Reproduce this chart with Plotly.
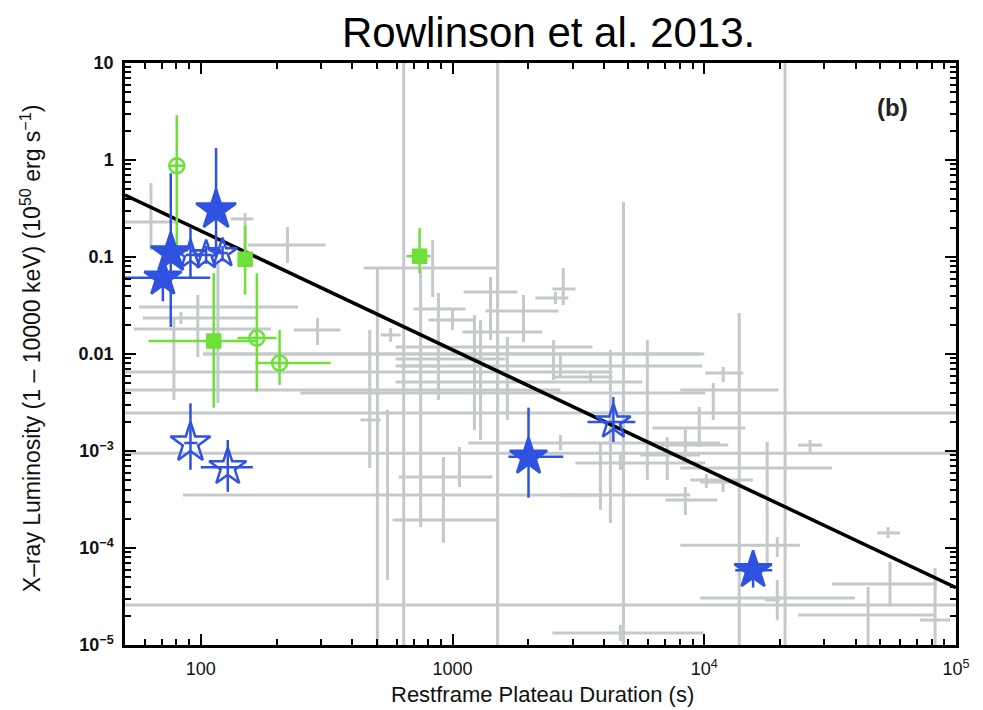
import plotly.graph_objects as go

# ---------------- data ----------------
# Other GRBs (gray crosses): plateau duration T (s), luminosity L (1e50 erg/s), error ranges
gray_T   = [63.4, 150, 221, 97.3, 78.2, 83.4, 291, 568, 117, 640, 1510, 20940, 503, 4775,
            2683, 13770, 3868, 4238, 5940, 1416, 2754, 2564, 879, 834, 1000, 1914, 1222,
            2518, 1652, 1292, 3530, 2683, 4643, 1066, 920, 552, 4643, 7130, 8410, 8410,
            11890, 10860, 9550, 26330, 10190, 11890, 17780, 19500, 53700, 54680, 44770,
            82600, 19500, 469, 747]
gray_L   = [0.23, 0.247, 0.133, 0.0305, 0.0181, 0.0235, 0.0177, 0.0157, 0.01, 0.00426,
            0.00247, 9.5e-4, 0.00652, 2.58e-5, 0.0075, 3.05e-5, 3.52e-4, 0.00514, 0.00396,
            0.0436, 0.0468, 0.0378, 0.0291, 0.077, 0.0224, 0.0277, 0.0169, 0.0118, 0.01,
            0.00888, 0.0058, 0.00121, 7.51e-4, 5.4e-4, 1.94e-4, 3.52e-4, 1.33e-5, 9.1e-4,
            3.12e-4, 0.00115, 0.00637, 0.00426, 0.00173, 0.00115, 5.02e-4, 4.79e-4, 6.68e-4,
            1.07e-4, 1.43e-4, 4.25e-5, 2.04e-5, 1.81e-5, 2.91e-5, 0.00209, 0.0075]
gray_Tlo = [45, 131.5, 154, 56.8, 54.2, 58.9, 234, 518, 102, 40, 30, 30, 40, 30,
            594, 9641, 2683, 594, 249, 1107, 2494, 2133, 700, 444, 803, 1352, 1096,
            594, 102, 594, 2494, 1156, 3077, 611, 578, 84.9, 2494, 5573, 7000, 6690,
            10090, 8031, 6220, 23600, 8800, 9641, 8031, 8031, 48650, 32210, 23600,
            71900, 17460, 431, 622]
gray_Thi = [81.8, 162, 313, 243, 190, 168, 359, 622, 9641, 2683, 3e5, 3e5, 4315, 3e5,
            9820, 39700, 8800, 5675, 10090, 1811, 3077, 2884, 1127, 1510, 1210, 2636, 2275,
            3597, 10000, 1622, 4315, 11570, 10090, 1442, 1510, 3868, 9910, 9641, 11270, 12450,
            14290, 19680, 14560, 29380, 15630, 13890, 32210, 24030, 59900, 84100, 82600,
            94600, 20040, 518, 896]
gray_Llo = [0.118, 0.0888, 0.0868, 0.0093, 0.00336, 0.0204, 0.0124, 0.0133, 0.00313, 1e-6,
            1e-6, 1e-6, 1e-6, 1e-6, 0.00566, 1e-6, 2.47e-4, 1.81e-4, 5.02e-4,
            0.0139, 0.032, 0.0327, 0.00336, 0.0387, 0.0177, 0.0133, 0.00165, 0.0054, 0.00209,
            0.0013, 0.00514, 0.00102, 6.37e-4, 4.25e-4, 1.13e-4, 4.67e-5, 1.1e-5, 5.02e-4,
            2.19e-4, 8.07e-4, 0.00514, 0.00209, 0.0011, 9.77e-4, 4.16e-4, 3.78e-4, 6.37e-5,
            8.07e-5, 1.27e-4, 2.47e-5, 1e-6, 1e-6, 1.8e-5, 6.68e-4, 1.64e-4]
gray_Lhi = [0.58, 0.284, 0.204, 0.0406, 0.0235, 0.0271, 0.0235, 0.0185, 0.0868, 100,
            100, 100, 0.0788, 0.369, 0.00977, 0.0265, 0.00121, 0.011, 0.0139,
            0.0622, 0.077, 0.0436, 0.0426, 0.15, 0.0298, 0.0406, 0.0252, 0.0139, 0.015,
            0.0224, 0.00652, 0.00146, 9.1e-4, 0.0011, 8.67e-4, 0.00265, 1.61e-5, 0.00139,
            4.25e-4, 0.00165, 0.00735, 0.00502, 0.00284, 0.0013, 5.79e-4, 5.25e-4, 0.00124,
            1.3e-4, 1.64e-4, 7.17e-5, 3.96e-5, 6.22e-5, 4.67e-5, 0.0177, 0.073]

# Highlighted sample (blue stars): filled and open
star_T    = [70.7, 76, 91, 105, 122, 115, 91, 128, 2004, 4355, 15630]
star_L    = [0.061, 0.11, 0.105, 0.105, 0.11, 0.305, 1.21e-3, 6.8e-4, 8.7e-4, 1.99e-3, 5.9e-5]
star_Tlo  = [45, 72, 87, 100, 116, 110, 86, 100, 1667, 3436, 13270]
star_Thi  = [109, 80, 96, 111, 128, 121, 97, 161, 2754, 5321, 18620]
star_Llo  = [0.035, 0.019, 0.06, 0.085, 0.09, 0.1, 6.4e-4, 3.8e-4, 3.3e-4, 1.24e-3, 3.9e-5]
star_Lhi  = [0.09, 0.73, 0.2, 0.13, 0.13, 1.33, 3.1e-3, 1.3e-3, 2.8e-3, 3.6e-3, 9.5e-5]
star_open = [False, False, True, True, True, False, True, True, False, True, False]
star_size = [28, 30, 22, 22, 22, 30, 30, 28, 28, 26, 28]

# Green circles (open) and squares (filled)
circ_T   = [80.3, 167, 205.6]
circ_L   = [0.87, 0.0146, 8.07e-3]
circ_Tlo = [77, 140, 165]
circ_Thi = [84, 200, 328]
circ_Llo = [0.12, 4.1e-3, 4.8e-3]
circ_Lhi = [2.9, 0.068, 0.0177]

sq_T   = [150, 112.6, 740]
sq_L   = [0.095, 0.0136, 0.102]
sq_Tlo = [145, 62, 656]
sq_Thi = [155, 165, 818]
sq_Llo = [0.041, 2.8e-3, 0.068]
sq_Lhi = [0.21, 0.068, 0.2]

# Best-fit relation (end points)
fit_T = [50, 1e5]
fit_L = [0.435, 3.9e-5]

x_ticks = [100, 1000, 1e4, 1e5]
x_text = ["100", "1000", "10<sup>4</sup>", "10<sup>5</sup>"]
y_ticks = [10, 1, 0.1, 0.01, 1e-3, 1e-4, 1e-5]
y_text = ["10", "1", "0.1", "0.01", "10<sup>−3</sup>", "10<sup>−4</sup>", "10<sup>−5</sup>"]

GRAY = "#c4c9c9"
BLUE = "#2f52e0"
GREEN = "#6ee03a"


def errs(v, lo, hi):
    return [h - c for c, h in zip(v, hi)], [c - l for c, l in zip(v, lo)]


fig = go.Figure()

gxp, gxm = errs(gray_T, gray_Tlo, gray_Thi)
gyp, gym = errs(gray_L, gray_Llo, gray_Lhi)
fig.add_trace(go.Scatter(
    x=gray_T, y=gray_L, mode="markers", marker=dict(size=1, color=GRAY),
    error_x=dict(type="data", array=gxp, arrayminus=gxm, color=GRAY, thickness=3, width=0),
    error_y=dict(type="data", array=gyp, arrayminus=gym, color=GRAY, thickness=3, width=0),
    hoverinfo="skip"))

fig.add_trace(go.Scatter(x=fit_T, y=fit_L, mode="lines",
                         line=dict(color="black", width=3.5), hoverinfo="skip"))

# green points
for T, L, Tlo, Thi, Llo, Lhi, sym, sz in [
        (circ_T, circ_L, circ_Tlo, circ_Thi, circ_Llo, circ_Lhi, "circle-cross-open", 15),
        (sq_T, sq_L, sq_Tlo, sq_Thi, sq_Llo, sq_Lhi, "square", 13)]:
    xp, xm = errs(T, Tlo, Thi)
    yp, ym = errs(L, Llo, Lhi)
    fig.add_trace(go.Scatter(
        x=T, y=L, mode="markers",
        marker=dict(symbol=sym, size=sz, color=GREEN, opacity=1,
                    line=dict(color=GREEN, width=2.5)),
        error_x=dict(type="data", array=xp, arrayminus=xm, color=GREEN, thickness=2.5, width=0),
        error_y=dict(type="data", array=yp, arrayminus=ym, color=GREEN, thickness=2.5, width=0)))

# blue stars
sxp, sxm = errs(star_T, star_Tlo, star_Thi)
syp, sym_ = errs(star_L, star_Llo, star_Lhi)
fig.add_trace(go.Scatter(
    x=star_T, y=star_L, mode="markers",
    marker=dict(symbol=["star-open" if o else "star" for o in star_open], size=star_size,
                color=BLUE, opacity=1, line=dict(color=BLUE, width=2.5)),
    error_x=dict(type="data", array=sxp, arrayminus=sxm, color=BLUE, thickness=2.5, width=0),
    error_y=dict(type="data", array=syp, arrayminus=sym_, color=BLUE, thickness=2.5, width=0)))

axis_common = dict(
    type="log", showgrid=False, zeroline=False, showline=True, linecolor="black",
    linewidth=2.5, mirror="ticks", ticks="inside", ticklen=11, tickwidth=2,
    tickcolor="black",
    minor=dict(ticks="inside", ticklen=6, tickwidth=2, tickcolor="black",
               dtick="D1", showgrid=False),
)

fig.update_layout(
    width=983, height=710,
    margin=dict(l=125, r=27, t=63, b=65),
    paper_bgcolor="white", plot_bgcolor="white",
    showlegend=False,
    xaxis=dict(range=[1.69897, 5], tickmode="array", tickvals=x_ticks, ticktext=x_text,
               ticklabelstandoff=6,
               tickfont=dict(family="Liberation Sans", size=18, color="#111"),
               **axis_common),
    yaxis=dict(range=[-5, 1], tickmode="array", tickvals=y_ticks, ticktext=y_text,
               ticklabelstandoff=5,
               tickfont=dict(family="Liberation Sans", size=18, color="#111", weight="bold"),
               **axis_common),
    annotations=[
        dict(text="Rowlinson et al. 2013.", x=0.510, y=1.053, xref="paper", yref="paper",
             showarrow=False, xanchor="center", yanchor="middle",
             font=dict(family="Liberation Sans", size=42, color="black")),
        dict(text="(b)", x=0.924, y=0.924, xref="paper", yref="paper",
             showarrow=False, xanchor="center", yanchor="middle",
             font=dict(family="Liberation Sans", size=24, color="#222", weight="bold")),
        dict(text="Restframe Plateau Duration (s)", x=0.503, y=-0.0845, xref="paper",
             yref="paper", showarrow=False, xanchor="center", yanchor="middle",
             font=dict(family="Liberation Sans", size=22, color="#111")),
        dict(text="X–ray Luminosity (1 – 10000 keV) (10<sup>50</sup> erg s<sup>−1</sup>)",
             x=-0.1131, y=0.510, xref="paper", yref="paper", textangle=-90,
             showarrow=False, xanchor="center", yanchor="middle",
             font=dict(family="Liberation Sans", size=23, color="#111")),
    ],
)

fig.write_html("out.html")
